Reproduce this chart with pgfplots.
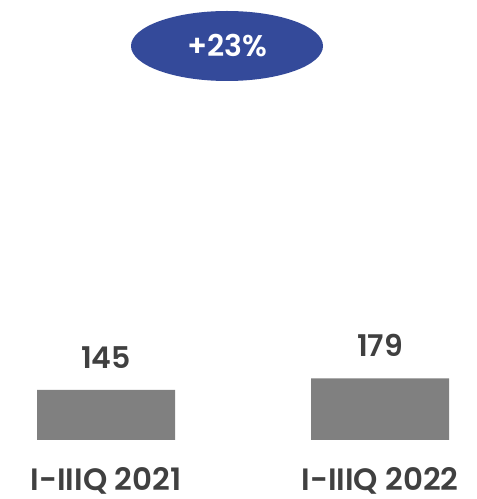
\documentclass[border=0pt]{standalone}
\usepackage{pgfplots}
\pgfplotsset{compat=1.18}
\usepackage{fontspec}
\setmainfont{Poppins}[BoldFont={* SemiBold}]
\definecolor{txt}{HTML}{404040}
\definecolor{barg}{HTML}{808080}
\definecolor{oval}{HTML}{344A9A}
\begin{document}
\begin{tikzpicture}
\useasboundingbox (0,0) rectangle (477bp,499bp);
\begin{axis}[
  at={(0,59bp)}, anchor=south west,
  scale only axis, width=477bp, height=440bp,
  xmin=-0.387, xmax=1.354, ymin=0, ymax=1276,
  axis line style={draw=none},
  tick style={draw=none},
  ytick=\empty,
  xtick={0,1}, xticklabels={I-IIIQ 2021,I-IIIQ 2022},
  major tick length=0pt,
  /pgf/number format/assume math mode=true,
  xticklabel style={font=\fontsize{31}{35}\selectfont\bfseries, text=txt, anchor=north, inner sep=0pt, yshift=-27bp},
  ybar, bar width=138bp,
  nodes near coords,
  nodes near coords style={font=\fontsize{30}{34}\selectfont\bfseries, text=txt, anchor=south, yshift=18bp},
  clip=false,
]
\addplot[fill=barg, draw=none] coordinates {(0,145) (1,179)};
\end{axis}
\fill[oval] (227bp,453bp) ellipse (96bp and 35bp);
\node[text=white, font=\fontsize{30}{34}\selectfont\bfseries] at (227bp,453bp) {+23\%};
\end{tikzpicture}
\end{document}
